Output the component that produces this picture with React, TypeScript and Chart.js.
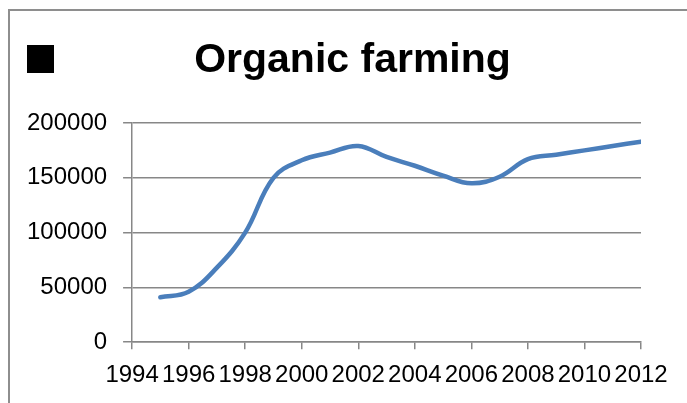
import React, { useEffect, useRef } from "react";
import { Chart, registerables } from "chart.js";

Chart.register(...registerables);

const TITLE = "Organic farming";
const years = [1995, 1996, 1997, 1998, 1999, 2000, 2001, 2002, 2003, 2004, 2005, 2006, 2007, 2008, 2009, 2010, 2011, 2012];
const values = [41000, 46000, 68000, 100000, 150000, 166000, 173000, 179000, 169000, 161000, 152000, 145000, 151000, 167000, 171000, 175000, 179000, 183000];
const xMin = 1994;
const xMax = 2012;
const xStep = 2;
const yMin = 0;
const yMax = 200000;
const yStep = 50000;

const FONT = '"Liberation Sans", Arial, sans-serif';
const GRID = "#878787";

const decorPlugin = {
  id: "decor",
  afterDraw(chart: any) {
    const ctx = chart.ctx;
    ctx.save();
    ctx.fillStyle = "#000";
    ctx.fillRect(27, 45, 27, 28);
    ctx.font = `bold 41px ${FONT}`;
    ctx.textAlign = "center";
    ctx.textBaseline = "alphabetic";
    ctx.fillText(TITLE, 352.5, 72);
    ctx.restore();
  },
};

export default function App() {
  const ref = useRef<HTMLCanvasElement | null>(null);
  useEffect(() => {
    if (!ref.current) return;
    const chart = new Chart(ref.current, {
      type: "line",
      data: {
        datasets: [
          {
            label: TITLE,
            data: years.map((y, i) => ({ x: y, y: values[i] })),
            borderColor: "#4a7ebb",
            backgroundColor: "#4a7ebb",
            borderWidth: 4.5,
            pointRadius: 0,
            tension: 0.4,
            fill: false,
            borderCapStyle: "round",
          },
        ],
      },
      options: {
        animation: false,
        responsive: false,
        devicePixelRatio: 1,
        layout: { padding: { top: 123, bottom: 1, left: 11, right: 46 } },
        plugins: {
          legend: { display: false },
          title: { display: false },
          tooltip: { enabled: false },
        },
        scales: {
          x: {
            type: "linear",
            min: xMin,
            max: xMax,
            ticks: {
              stepSize: xStep,
              autoSkip: false,
              maxRotation: 0,
              minRotation: 0,
              color: "#000",
              font: { family: FONT, size: 24 },
              padding: 12,
              callback: (v: any) => String(v),
            },
            grid: {
              display: true,
              drawOnChartArea: false,
              drawTicks: true,
              tickLength: 7,
              color: GRID,
              lineWidth: 1.5,
            },
            border: { display: true, color: GRID, width: 1.5 },
          },
          y: {
            min: yMin,
            max: yMax,
            ticks: {
              stepSize: yStep,
              color: "#000",
              font: { family: FONT, size: 24 },
              padding: 16,
              callback: (v: any) => String(v),
            },
            grid: {
              display: true,
              drawOnChartArea: true,
              drawTicks: true,
              tickLength: 9,
              color: GRID,
              lineWidth: 1.5,
            },
            border: { display: true, color: GRID, width: 1.5 },
          },
        },
      },
      plugins: [decorPlugin],
    });
    return () => chart.destroy();
  }, []);

  return (
    <div style={{ position: "fixed", left: 0, top: 0, width: 687, height: 403, overflow: "hidden", background: "#fff" }}>
      <div
        style={{
          position: "absolute",
          left: 8,
          top: 9,
          width: 720,
          height: 440,
          borderLeft: "2px solid #8e8e8e",
          borderTop: "2px solid #8e8e8e",
        }}
      />
      <canvas ref={ref} width={687} height={403} style={{ position: "absolute", left: 0, top: 0, width: 687, height: 403 }} />
    </div>
  );
}
